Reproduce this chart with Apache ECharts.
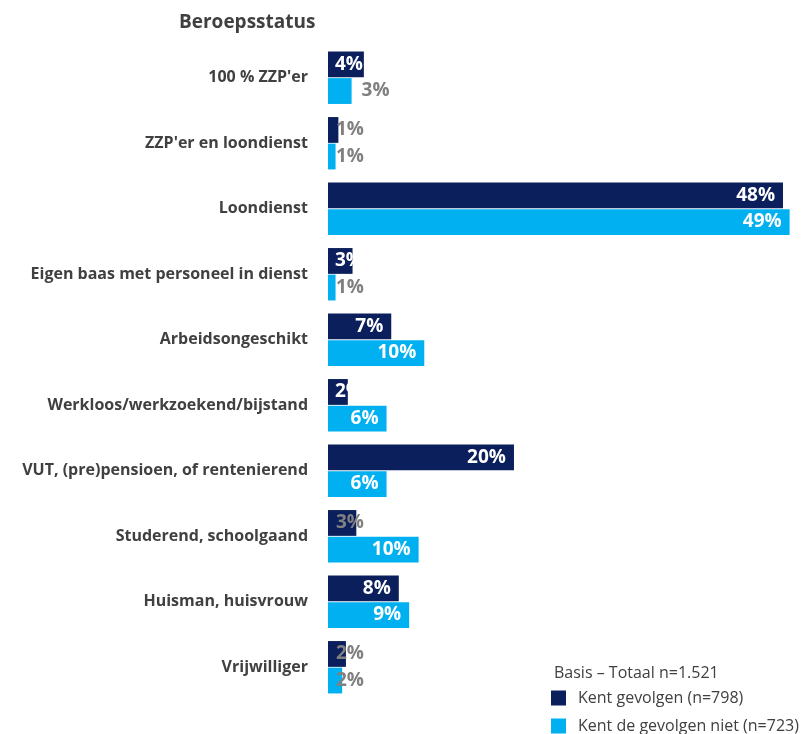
<!DOCTYPE html>
<html>
<head>
<meta charset="utf-8">
<script src="https://cdn.jsdelivr.net/npm/echarts@6/dist/echarts.min.js"></script>
<style>
html,body{margin:0;padding:0;background:#fff;}
#main{width:805px;height:734px;}
</style>
</head>
<body>
<div id="main"></div>
<script>
// ---- data ----
var categories = ["100 % ZZP'er", "ZZP'er en loondienst", "Loondienst", "Eigen baas met personeel in dienst", "Arbeidsongeschikt", "Werkloos/werkzoekend/bijstand", "VUT, (pre)pensioen, of rentenierend", "Studerend, schoolgaand", "Huisman, huisvrouw", "Vrijwilliger"];
var kentGevolgen = [3.8, 1.1, 48.2, 2.6, 6.7, 2.1, 19.7, 3.0, 7.5, 1.9];
var kentNiet = [2.5, 0.8, 48.9, 0.8, 10.2, 6.2, 6.2, 9.6, 8.6, 1.5];
var seriesNames = ["Kent gevolgen (n=798)", "Kent de gevolgen niet (n=723)"];
var titleText = "Beroepsstatus";
var basisText = "Basis \u2013 Totaal n=1.521";

// ---- label placement quirks (as in the source) ----
var darkModes = ['left', 'gray', 'in', 'left', 'in', 'left', 'in', 'gray', 'in', 'gray'];
var lightModes = ['grayOut', 'gray', 'in', 'gray', 'in', 'in', 'in', 'in', 'in', 'gray'];

var DARK = '#0b1f5c', LIGHT = '#00b0f0', GRAY = '#808080';
var LABEL_FONT = {fontFamily: 'Open Sans', fontWeight: 'bold', fontSize: 19};

function labelFor(mode) {
  var base = Object.assign({show: true}, LABEL_FONT);
  if (mode === 'in') return Object.assign(base, {position: 'insideRight', distance: 8, color: '#fff'});
  if (mode === 'left') return Object.assign(base, {position: 'insideLeft', distance: 7, color: '#fff'});
  if (mode === 'gray') return Object.assign(base, {position: 'insideLeft', distance: 8, color: GRAY});
  return Object.assign(base, {position: 'right', distance: 10, color: GRAY});
}
function build(values, modes) {
  return values.map(function (v, i) {
    return {value: v, label: labelFor(modes[i])};
  });
}
function fmt(p) { return Math.round(p.value) + '%'; }

function legendAt(name, top) {
  return {
    orient: 'vertical', left: 551, top: top, padding: 0,
    itemWidth: 15, itemHeight: 15,
    icon: 'rect',
    textStyle: {fontFamily: 'Open Sans', fontSize: 16, color: '#404040', padding: [0, 0, 0, 7]},
    data: [name]
  };
}

var chart = echarts.init(document.getElementById('main'));
chart.setOption({
  animation: false,
  backgroundColor: '#fff',
  title: {
    text: titleText,
    left: 174, top: 8,
    textStyle: {fontFamily: 'Open Sans', fontWeight: 'bold', fontSize: 19, color: '#404040'}
  },
  grid: {left: 328, right: 5, top: 45, bottom: 34, containLabel: false},
  xAxis: {
    type: 'value', min: 0, max: 50, show: false
  },
  yAxis: {
    type: 'category', data: categories, inverse: true,
    axisLine: {show: false}, axisTick: {show: false},
    axisLabel: {margin: 20, color: '#404040', fontFamily: 'Open Sans', fontWeight: 'bold', fontSize: 16}
  },
  legend: [legendAt(seriesNames[0], 690), legendAt(seriesNames[1], 718)],
  graphic: [{
    type: 'text', left: 554, top: 665,
    style: {text: basisText, fontFamily: 'Open Sans', fontSize: 16, fill: '#404040'}
  }],
  series: [
    {
      name: seriesNames[0], type: 'bar', data: build(kentGevolgen, darkModes),
      itemStyle: {color: DARK}, barGap: '3%', barCategoryGap: '20%',
      label: {formatter: fmt}
    },
    {
      name: seriesNames[1], type: 'bar', data: build(kentNiet, lightModes),
      itemStyle: {color: LIGHT},
      label: {formatter: fmt}
    }
  ]
});
</script>
</body>
</html>
